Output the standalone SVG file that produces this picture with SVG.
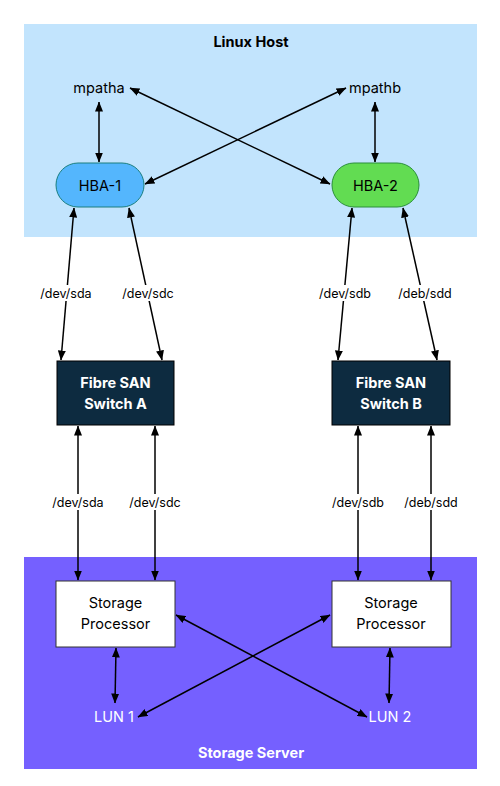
<svg xmlns="http://www.w3.org/2000/svg" width="500" height="786" viewBox="0 0 500 786">
<style>
.t{font-family:Inter,"Liberation Sans",sans-serif;font-size:14.5px;fill:#000;text-anchor:middle;dominant-baseline:central}
.lbl{font-family:Inter,"Liberation Sans",sans-serif;font-size:12.5px;fill:#000;text-anchor:middle;dominant-baseline:central}
.b{font-weight:bold}
.w{fill:#fff}
.e{stroke:#000;stroke-width:1.5;fill:none;marker-start:url(#a);marker-end:url(#a)}
</style>
<defs>
<marker id="a" viewBox="0 0 10 8" refX="9.5" refY="4" markerWidth="10" markerHeight="8" orient="auto-start-reverse" markerUnits="userSpaceOnUse">
<path d="M0,0 L10,4 L0,8 z" fill="#000"/>
</marker>
</defs>
<rect width="500" height="786" fill="#fff"/>
<g id="linux-host">
<rect x="24" y="24" width="453" height="213" fill="#c2e4fd"/>
<text class="t b" x="251" y="41">Linux Host</text>
</g>
<g id="storage-server">
<rect x="24" y="557" width="453" height="212" fill="#7560ff"/>
<text class="t b w" x="251" y="752">Storage Server</text>
</g>
<g id="connectors">
<line class="e" x1="99" y1="102" x2="99" y2="162"/>
<line class="e" x1="375" y1="102" x2="375" y2="162"/>
<line class="e" x1="130" y1="88" x2="330" y2="184"/>
<line class="e" x1="346" y1="88" x2="145" y2="184"/>
<line class="e" x1="74" y1="208" x2="61" y2="360"/>
<line class="e" x1="129" y1="208" x2="162" y2="360"/>
<line class="e" x1="352" y1="208" x2="338" y2="360"/>
<line class="e" x1="403" y1="208" x2="437" y2="360"/>
<line class="e" x1="78" y1="426" x2="78" y2="580"/>
<line class="e" x1="155" y1="426" x2="155" y2="580"/>
<line class="e" x1="358" y1="426" x2="358" y2="580"/>
<line class="e" x1="431" y1="426" x2="431" y2="580"/>
<line class="e" x1="116" y1="648" x2="115" y2="703"/>
<line class="e" x1="390" y1="648" x2="389" y2="703"/>
<line class="e" x1="176" y1="615" x2="367" y2="717"/>
<line class="e" x1="330" y1="615" x2="138" y2="717"/>
<g>
<rect x="39" y="285" width="54" height="16" fill="#fff"/>
<text class="lbl" x="66" y="293">/dev/sda</text>
<rect x="121" y="285" width="54" height="16" fill="#fff"/>
<text class="lbl" x="148" y="293">/dev/sdc</text>
<rect x="318" y="285" width="54" height="16" fill="#fff"/>
<text class="lbl" x="345" y="293">/dev/sdb</text>
<rect x="397" y="285" width="56" height="16" fill="#fff"/>
<text class="lbl" x="425" y="293">/deb/sdd</text>
<rect x="51" y="494" width="54" height="16" fill="#fff"/>
<text class="lbl" x="78" y="502">/dev/sda</text>
<rect x="128" y="494" width="54" height="16" fill="#fff"/>
<text class="lbl" x="155" y="502">/dev/sdc</text>
<rect x="331" y="494" width="54" height="16" fill="#fff"/>
<text class="lbl" x="358" y="502">/dev/sdb</text>
<rect x="403" y="494" width="56" height="16" fill="#fff"/>
<text class="lbl" x="431" y="502">/deb/sdd</text>
</g>
</g>
<g id="mpatha"><text class="t" x="99" y="87">mpatha</text></g>
<g id="mpathb"><text class="t" x="375" y="87">mpathb</text></g>
<g id="hba1">
<rect x="56" y="163" width="88" height="44" rx="22" fill="#54b6fd" stroke="#1a7f7f" stroke-width="1"/>
<text class="t" x="100" y="185">HBA-1</text>
</g>
<g id="hba2">
<rect x="332" y="163" width="87" height="44" rx="22" fill="#62dc52" stroke="#2a8f3a" stroke-width="1"/>
<text class="t" x="375.5" y="185">HBA-2</text>
</g>
<g id="switch-a">
<rect x="57" y="361" width="117" height="64" fill="#0d2b40" stroke="#000" stroke-width="1"/>
<text class="t b w" x="115.5" y="382">Fibre SAN</text>
<text class="t b w" x="115.5" y="403">Switch A</text>
</g>
<g id="switch-b">
<rect x="332" y="361" width="118" height="64" fill="#0d2b40" stroke="#000" stroke-width="1"/>
<text class="t b w" x="391" y="382">Fibre SAN</text>
<text class="t b w" x="391" y="403">Switch B</text>
</g>
<g id="sp1">
<rect x="56" y="581" width="119" height="66" fill="#fff" stroke="#333" stroke-width="1"/>
<text class="t" x="115.5" y="602">Storage</text>
<text class="t" x="115.5" y="623">Processor</text>
</g>
<g id="sp2">
<rect x="332" y="581" width="119" height="66" fill="#fff" stroke="#333" stroke-width="1"/>
<text class="t" x="391" y="602">Storage</text>
<text class="t" x="391" y="623">Processor</text>
</g>
<g id="lun1"><text class="t w" x="114" y="716">LUN 1</text></g>
<g id="lun2"><text class="t w" x="390" y="716">LUN 2</text></g>
</svg>
